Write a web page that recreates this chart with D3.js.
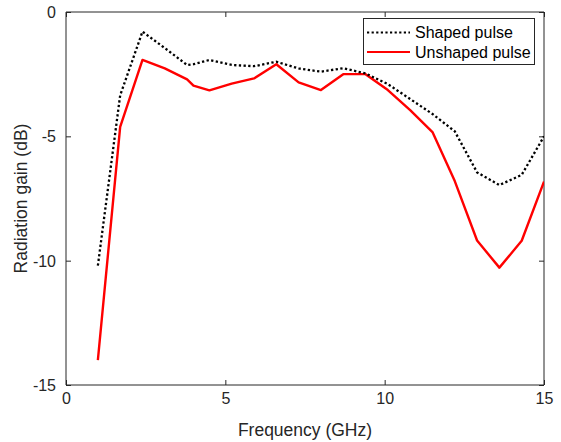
<!DOCTYPE html>
<html>
<head>
<meta charset="utf-8">
<script src="https://cdn.jsdelivr.net/npm/d3@7"></script>
<style>
  body { margin: 0; background: #fff; }
  svg { font-family: "Liberation Sans", Arial, Helvetica, sans-serif; }
</style>
</head>
<body>
<svg width="561" height="442"></svg>
<script>
// frequency samples (GHz)
var freq = [1.0, 1.7, 2.4, 3.1, 3.8, 4.0, 4.5, 5.2, 5.9, 6.6, 7.3, 8.0, 8.7, 9.4, 10.1, 10.8, 11.5, 12.2, 12.9, 13.6, 14.3, 15.0];

// radiation gain (dB)
var shaped   = [-10.2, -3.35, -0.79, -1.45, -2.13, -2.1, -1.93, -2.13, -2.18, -2.0, -2.27, -2.4, -2.26, -2.47, -2.9, -3.5, -4.1, -4.8, -6.45, -6.96, -6.55, -5.0];
var unshaped = [-14.0, -4.62, -1.93, -2.27, -2.71, -2.96, -3.15, -2.88, -2.67, -2.1, -2.83, -3.14, -2.5, -2.5, -3.14, -3.95, -4.83, -6.8, -9.19, -10.28, -9.2, -6.82];

var xTicks = [0, 5, 10, 15];
var yTicks = [0, -5, -10, -15];
var seriesNames = ["Shaped pulse", "Unshaped pulse"];

var svg = d3.select("svg");
var axisColor = "#262626";

//plot box in pixels (note: "top" is reserved on window, so use other names)
var plotLeft = 66, plotRight = 544, plotTop = 12, plotBottom = 385;

var x = d3.scaleLinear().domain([0, 15]).range([plotLeft, plotRight]);
var y = d3.scaleLinear().domain([-15, 0]).range([plotBottom, plotTop]);

var tickLen = 5;
//plain hyphen for negatives, like the reference
var plainFormat = function(d) { return String(d); };

//bottom and left axes with ticks pointing inwards
var xAxis = d3.axisBottom(x).tickValues(xTicks).tickSize(-tickLen).tickPadding(14).tickFormat(plainFormat);
var yAxis = d3.axisLeft(y).tickValues(yTicks).tickSize(-tickLen).tickPadding(10).tickFormat(plainFormat);

var gx = svg.append("g").attr("transform", "translate(0," + plotBottom + ")").call(xAxis);
var gy = svg.append("g").attr("transform", "translate(" + plotLeft + ",0)").call(yAxis);

//mirror ticks on top and right, no labels
var gx2 = svg.append("g").attr("transform", "translate(0," + plotTop + ")")
  .call(d3.axisTop(x).tickValues(xTicks).tickSize(-tickLen).tickFormat(""));
var gy2 = svg.append("g").attr("transform", "translate(" + plotRight + ",0)")
  .call(d3.axisRight(y).tickValues(yTicks).tickSize(-tickLen).tickFormat(""));

[gx, gy, gx2, gy2].forEach(function(g) {
  g.select(".domain").attr("stroke", axisColor).attr("stroke-width", 1);
  g.selectAll(".tick line").attr("stroke", axisColor);
  g.selectAll(".tick text").attr("fill", axisColor).style("font-size", "16px")
    .style("font-family", "'Liberation Sans', Arial, Helvetica, sans-serif");
});
gx.selectAll(".tick text").attr("dy", "0.3em");
gy.selectAll(".tick text").attr("dy", "0.35em");

//plain domain lines without outer ticks
gx.select(".domain").attr("d", "M" + plotLeft + ",0H" + plotRight);
gy.select(".domain").attr("d", "M0," + plotTop + "V" + plotBottom);
gx2.select(".domain").attr("d", "M" + plotLeft + ",0H" + plotRight);
gy2.select(".domain").attr("d", "M0," + plotTop + "V" + plotBottom);

//lines
svg.append("clipPath").attr("id", "plotclip")
  .append("rect").attr("x", plotLeft).attr("y", plotTop)
  .attr("width", plotRight - plotLeft).attr("height", plotBottom - plotTop);

var line = d3.line()
  .x(function(d, i) { return x(freq[i]); })
  .y(function(d) { return y(d); });

var plot = svg.append("g").attr("clip-path", "url(#plotclip)");

plot.append("path")
  .datum(unshaped)
  .attr("d", line)
  .attr("fill", "none")
  .attr("stroke", "#ff0000")
  .attr("stroke-width", 2.4)
  .attr("stroke-linejoin", "round");

plot.append("path")
  .datum(shaped)
  .attr("d", line)
  .attr("fill", "none")
  .attr("stroke", "#000")
  .attr("stroke-width", 2.3)
  .attr("stroke-dasharray", "2.3,2.4");

//axis labels
svg.append("text")
  .attr("x", (plotLeft + plotRight) / 2)
  .attr("y", 436)
  .attr("text-anchor", "middle")
  .attr("fill", axisColor)
  .style("font-size", "17.5px")
  .text("Frequency (GHz)");

svg.append("text")
  .attr("transform", "translate(27," + (plotTop + plotBottom) / 2 + ") rotate(-90)")
  .attr("text-anchor", "middle")
  .attr("fill", axisColor)
  .style("font-size", "17.5px")
  .text("Radiation gain (dB)");

//legend
var legend = svg.append("g");
legend.append("rect")
  .attr("x", 363.5).attr("y", 18.5)
  .attr("width", 171).attr("height", 46)
  .attr("fill", "#fff")
  .attr("stroke", axisColor)
  .attr("stroke-width", 1);

var legendStyles = [
  { color: "#000", dash: "2.2,2.4" },
  { color: "#ff0000", dash: null }
];

seriesNames.forEach(function(name, i) {
  var ly = 32.5 + i * 19.5;
  legend.append("line")
    .attr("x1", 367).attr("x2", 410)
    .attr("y1", ly).attr("y2", ly)
    .attr("stroke", legendStyles[i].color)
    .attr("stroke-width", 2.2)
    .attr("stroke-dasharray", legendStyles[i].dash);
  legend.append("text")
    .attr("x", 415)
    .attr("y", ly + 5.8)
    .attr("fill", "#000")
    .style("font-size", "16px")
    .text(name);
});
</script>
</body>
</html>
